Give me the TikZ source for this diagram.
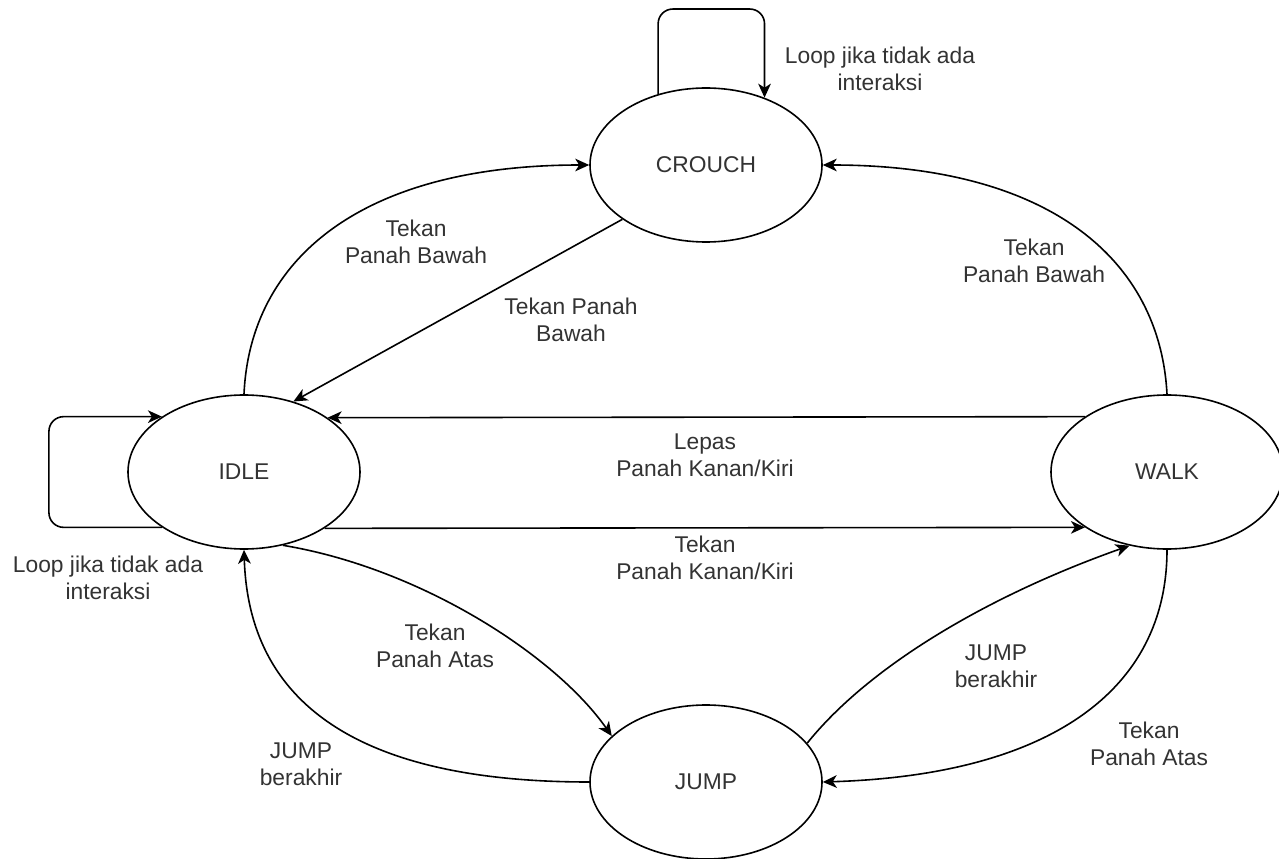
\documentclass[tikz,border=0pt]{standalone}
\usepackage{fontspec}
\setmainfont{Liberation Sans}
\usetikzlibrary{arrows.meta,shapes.geometric}
\begin{document}
\begin{tikzpicture}[x=0.75pt,y=-0.75pt,
  every node/.style={font=\fontsize{17.1}{20}\selectfont, text=black!80},
  state/.style={ellipse, draw=black, line width=1.2pt, minimum width=174pt, minimum height=115.5pt, inner sep=0pt},
  lbl/.style={align=center, inner sep=0pt},
  edge/.style={line width=1.2pt, draw=black, -{Stealth[length=10.5pt,width=9.5pt,inset=3pt]}}]
\useasboundingbox[fill=white] (0,0) rectangle (1279,859);

\node[state] (crouch) at (706,165) {CROUCH};
\node[state] (idle) at (244,472) {IDLE};
\node[state] (walk) at (1167,472) {WALK};
\node[state] (jump) at (706,782) {JUMP};

% loops
\draw[edge, rounded corners=11pt] (crouch.124.4) -- ++(0,-85) -| (crouch.49);
\draw[edge, rounded corners=11pt] (idle.214.1) -- ++(-113,0) |- (idle.146.9);

% idle <-> crouch
\draw[edge] (idle.north) .. controls (250,260) and (360,165) .. (crouch.west);
\draw[edge] (crouch.213.5) -- (idle.55.6);

% idle <-> walk
\draw[edge] (walk.146.9) -- (idle.33.1);
\draw[edge] (idle.325.9) -- (walk.214.1);

% walk -> crouch
\draw[edge] (walk.north) .. controls (1160,260) and (1050,165) .. (crouch.east);

% idle <-> jump
\draw[edge] (idle.298) .. controls (420,568) and (555,655) .. (jump.154);
\draw[edge] (jump.west) .. controls (420,782) and (250,740) .. (idle.south);

% jump <-> walk
\draw[edge] (jump.21) .. controls (870,665) and (990,595) .. (walk.243);
\draw[edge] (walk.south) .. controls (1167,690) and (1050,775) .. (jump.east);

% labels
\node[lbl] (lc) at (880,69) {Loop jika tidak ada\\interaksi};
\node[lbl] (li) at (108,578) {Loop jika tidak ada\\interaksi};
\node[lbl] (l1) at (416,242) {Tekan\\Panah Bawah};
\node[lbl] (l2) at (571,320) {Tekan Panah\\Bawah};
\node[lbl] (l3) at (705,455) {Lepas\\Panah Kanan/Kiri};
\node[lbl] (l4) at (705,558) {Tekan\\Panah Kanan/Kiri};
\node[lbl] (l5) at (435,646) {Tekan\\Panah Atas};
\node[lbl] (l6) at (301,764) {JUMP\\berakhir};
\node[lbl] (l7) at (996,666) {JUMP\\berakhir};
\node[lbl] (l8) at (1149,744) {Tekan\\Panah Atas};
\node[lbl] (l9) at (1034,261) {Tekan\\Panah Bawah};
\end{tikzpicture}
\end{document}
